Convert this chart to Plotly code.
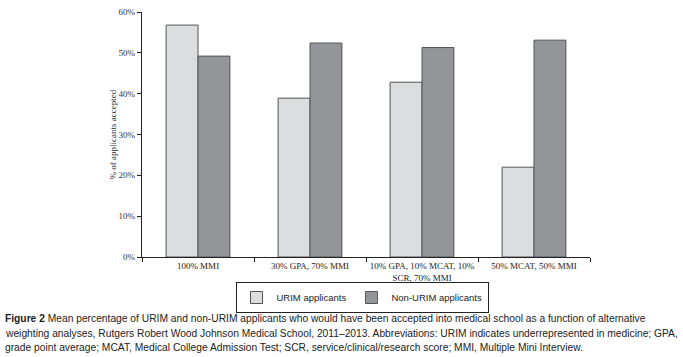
import plotly.graph_objects as go

categories = ["100% MMI", "30% GPA, 70% MMI", "10% GPA, 10% MCAT, 10%<br>SCR, 70% MMI", "50% MCAT, 50% MMI"]
urim = [56.8, 38.9, 42.8, 22.0]
non_urim = [49.2, 52.4, 51.3, 53.1]
y_ticks = [0, 10, 20, 30, 40, 50, 60]
y_tick_labels = [f"{v}%" for v in y_ticks]

W, H = 683, 357
L, R, T, B = 142, 93, 12, 100
pw = W - L - R
ph = H - T - B

def px_x(x):
    return (x - L) / pw

def px_y(y):
    return (H - B - y) / ph

fig = go.Figure()
fig.add_trace(go.Bar(x=categories, y=urim, name="URIM applicants",
                     marker=dict(color="#dcdddf", line=dict(color="#555555", width=1))))
fig.add_trace(go.Bar(x=categories, y=non_urim, name="Non-URIM applicants",
                     marker=dict(color="#939598", line=dict(color="#555555", width=1))))

serif = "Liberation Serif, Times New Roman, serif"
sans = "Liberation Sans, Arial, sans-serif"

fig.update_layout(
    width=W, height=H,
    margin=dict(l=L, r=R, t=T, b=B, autoexpand=False),
    paper_bgcolor="white", plot_bgcolor="white",
    barmode="group", bargap=0.43, bargroupgap=0,
    showlegend=True,
    legend=dict(orientation="h", x=px_x(362), xanchor="center", y=px_y(282), yanchor="top",
                bordercolor="#222222", borderwidth=1, font=dict(family=sans, size=9.5, color="#222"),
                itemwidth=30, tracegroupgap=0),
    xaxis=dict(showline=True, linecolor="#222222", linewidth=1.2, ticks="outside", tickson="boundaries",
               ticklen=4, tickcolor="#222", tickangle=0, automargin=False,
               tickfont=dict(family=serif, size=9, color="#222"),
               showgrid=False),
    yaxis=dict(range=[0, 60], tickvals=y_ticks, ticktext=y_tick_labels, showline=True, linecolor="#222222",
               linewidth=1.2, ticks="outside", ticklen=4, tickcolor="#222", showgrid=False, zeroline=False,
               automargin=False, tickfont=dict(family=serif, size=9, color="#333")),
)

fig.add_annotation(text="% of applicants accepted", textangle=-90, x=px_x(112), y=0.5,
                   xref="paper", yref="paper", showarrow=False, xanchor="center", yanchor="middle",
                   font=dict(family=serif, size=9, color="#333"))

caption = [
    "<b>Figure 2</b> Mean percentage of URIM and non-URIM applicants who would have been accepted into medical school as a function of alternative",
    "weighting analyses, Rutgers Robert Wood Johnson Medical School, 2011–2013. Abbreviations: URIM indicates underrepresented in medicine; GPA,",
    "grade point average; MCAT, Medical College Admission Test; SCR, service/clinical/research score; MMI, Multiple Mini Interview.",
]
for i, line in enumerate(caption):
    fig.add_annotation(text=line, x=px_x(3), y=px_y(318.5 + 14.5 * i), xref="paper", yref="paper",
                       xanchor="left", yanchor="middle", showarrow=False, align="left",
                       font=dict(family=sans, size=10.25, color="#222"))

fig.write_html("out.html", config={"displayModeBar": False},
               post_script="document.body.style.margin='0';document.body.style.overflow='hidden';")
